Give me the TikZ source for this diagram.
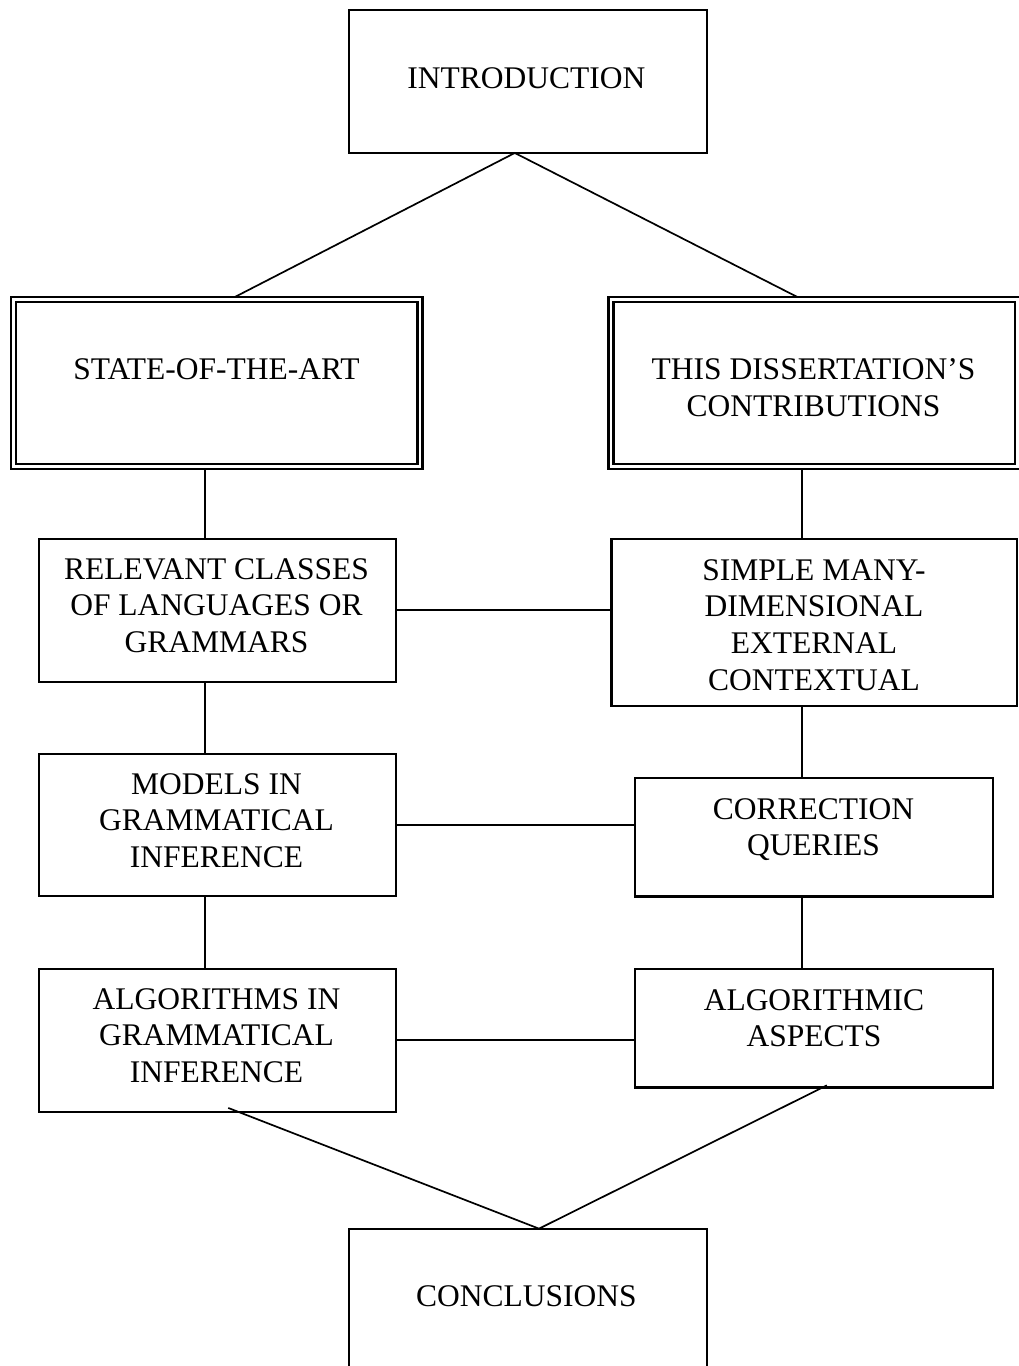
\documentclass[tikz,border=0pt]{standalone}
\usepackage{fontspec}
\setmainfont{Liberation Serif}
\usetikzlibrary{backgrounds}
\begin{document}
\begin{tikzpicture}[x=1pt,y=-1pt,
  box/.style={draw, line width=2.3pt, inner sep=0pt, outer sep=0pt},
  dbox/.style={draw, line width=2.6pt, double, double distance=2.4pt, inner sep=0pt, outer sep=0pt},
  lbl/.style={anchor=north, inner sep=0pt, align=center, font=\fontsize{31.5}{36.9}\selectfont},
  link/.style={line width=1.7pt}]
\useasboundingbox (0,0) rectangle (1019,1366);
% boxes
\node[box, minimum width=358.3pt, minimum height=143.3pt] (intro) at (527.8,81.3) {};
\node[dbox, minimum width=406.7pt, minimum height=166.8pt] (state) at (216.7,382.9) {};
\node[dbox, minimum width=406.5pt, minimum height=166.8pt] (contrib) at (814.25,382.9) {};
\node[box, minimum width=357.3pt, minimum height=143.3pt] (relevant) at (217.3,610.3) {};
\node[box, minimum width=405.7pt, minimum height=167pt] (simple) at (814.2,622.2) {};
\node[box, minimum width=357.3pt, minimum height=142.6pt] (models) at (217.3,825) {};
\node[box, minimum width=358.3pt, minimum height=118.3pt] (correction) at (813.8,837.2) {};
\node[box, minimum width=357.3pt, minimum height=143.3pt] (algorithms) at (217.3,1040.3) {};
\node[box, minimum width=358.3pt, minimum height=118.3pt] (algorithmic) at (813.8,1028.2) {};
\node[box, minimum width=358.3pt, minimum height=143.3pt] (conclusions) at (527.8,1300.3) {};
% texts
\node[lbl] (introT) at (526.3,67) {INTRODUCTION};
\node[lbl] (stateT) at (216.5,358) {STATE-OF-THE-ART};
\node[lbl] (contribT) at (813.5,358) {THIS DISSERTATION’S\\CONTRIBUTIONS};
\node[lbl] (relevantT) at (216.5,558) {RELEVANT CLASSES\\OF LANGUAGES OR\\GRAMMARS};
\node[lbl] (simpleT) at (814,559) {SIMPLE MANY-\\DIMENSIONAL\\EXTERNAL\\CONTEXTUAL};
\node[lbl] (modelsT) at (216.5,773) {MODELS IN\\GRAMMATICAL\\INFERENCE};
\node[lbl] (correctionT) at (813.5,798) {CORRECTION\\QUERIES};
\node[lbl] (algorithmsT) at (216.5,988) {ALGORITHMS IN\\GRAMMATICAL\\INFERENCE};
\node[lbl] (algorithmicT) at (814,989) {ALGORITHMIC\\ASPECTS};
\node[lbl] (conclusionsT) at (526.3,1285) {CONCLUSIONS};
% connectors
\begin{scope}[on background layer]
\draw[link] ([xshift=13.3pt]state.north) -- ([xshift=-13pt]intro.south) -- ([xshift=-12pt]contrib.north);
\draw[link] ([xshift=-12pt]state.south) coordinate (a1) -- (a1 |- relevant.north);
\draw[link] ([xshift=-12.3pt]relevant.south) coordinate (a2) -- (a2 |- models.north);
\draw[link] ([xshift=-12.3pt]models.south) coordinate (a3) -- (a3 |- algorithms.north);
\draw[link] ([xshift=-12.25pt]contrib.south) coordinate (b1) -- (b1 |- simple.north);
\draw[link] ([xshift=-12.2pt]simple.south) coordinate (b2) -- (b2 |- correction.north);
\draw[link] ([xshift=-11.8pt]correction.south) coordinate (b3) -- (b3 |- algorithmic.north);
\draw[link] (relevant.east) -- (relevant.east -| simple.west);
\draw[link] (models.east) -- (models.east -| correction.west);
\draw[link] (algorithms.east) -- (algorithms.east -| algorithmic.west);
\draw[link] ([xshift=11pt,yshift=4pt]algorithms.south) -- ([xshift=11.2pt]conclusions.north) -- ([xshift=13pt,yshift=2pt]algorithmic.south);
\end{scope}
\end{tikzpicture}
\end{document}
